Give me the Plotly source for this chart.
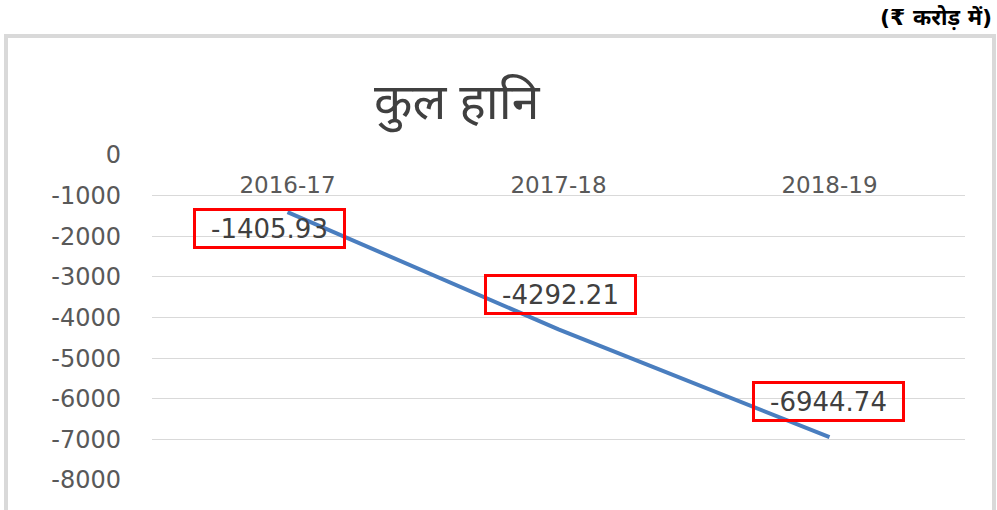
import plotly.graph_objects as go

categories = ["2016-17", "2017-18", "2018-19"]
values = [-1405.93, -4292.21, -6944.74]
label_texts = ["-1405.93", "-4292.21", "-6944.74"]
y_ticks = [0, -1000, -2000, -3000, -4000, -5000, -6000, -7000, -8000]

W, H = 997, 510
L, R, T, B = 152, 32, 155, 30
pw, ph = W - L - R, H - T - B

fig = go.Figure()
fig.add_trace(go.Scatter(
    x=categories, y=values, mode="lines",
    line=dict(color="#4a7ebf", width=4),
    hoverinfo="skip", showlegend=False,
))

# data labels with red boxes
shifts = [(-18, -16), (2, 35), (-1, 36)]
for c, v, t, (dx, dy) in zip(categories, values, label_texts, shifts):
    fig.add_annotation(
        x=c, y=v, text=t, showarrow=False, xshift=dx, yshift=dy,
        width=147, height=35, align="center",
        font=dict(family="DejaVu Sans", size=26, color="#404040"),
        bordercolor="#ff0000", borderwidth=3, borderpad=0, bgcolor="rgba(0,0,0,0)",
    )

fig.add_annotation(
    x=(457 - L) / pw, y=(H - B - 100) / ph, xref="paper", yref="paper",
    xanchor="center", yanchor="middle",
    text="कुल हानि", showarrow=False,
    font=dict(family="Noto Sans, DejaVu Sans", size=50, color="#404040"),
)
fig.add_annotation(
    x=(994 - L) / pw, y=(H - B - 18) / ph, xref="paper", yref="paper",
    xanchor="right", yanchor="middle", text="<b>(₹ करोड़ में)</b>", showarrow=False,
    font=dict(family="DejaVu Sans, Noto Sans", size=22, color="#000000"),
)

# outer border
fig.add_shape(
    type="rect", xref="paper", yref="paper",
    x0=(6 - L) / pw, x1=(994 - L) / pw,
    y0=(H - B - 530) / ph, y1=(H - B - 36) / ph,
    line=dict(color="#d9d9d9", width=4), layer="below",
)

fig.update_layout(
    width=W, height=H,
    margin=dict(l=L, r=R, t=T, b=B),
    paper_bgcolor="white", plot_bgcolor="white",
    xaxis=dict(
        type="category", range=[-0.5, 2.5], anchor="free", position=1, side="bottom",
        showgrid=False, showline=False, zeroline=False, ticks="",
        ticklabelstandoff=14,
        tickfont=dict(family="DejaVu Sans", size=23, color="#595959"),
    ),
    yaxis=dict(
        range=[-8000, 0], tickvals=y_ticks, ticktext=[str(v) for v in y_ticks],
        showgrid=True, gridcolor="#d9d9d9", gridwidth=1, zeroline=False,
        showline=False, ticks="", ticklabelstandoff=30,
        tickfont=dict(family="DejaVu Sans", size=24, color="#595959"),
    ),
)

fig.write_html(
    "out.html",
    config={"displayModeBar": False},
    post_script="document.body.style.margin='0';document.body.style.overflow='hidden';",
)
